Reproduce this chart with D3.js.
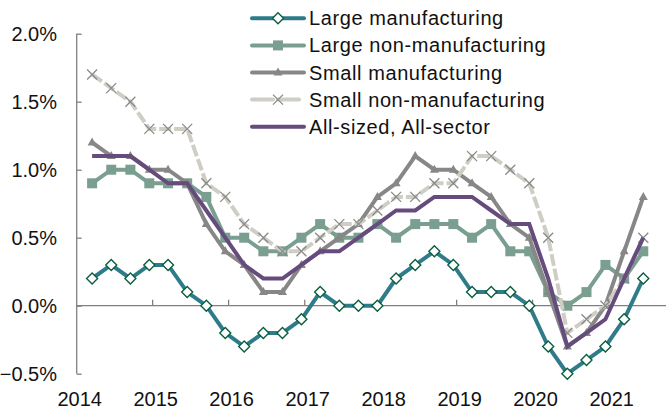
<!DOCTYPE html>
<html lang="en">
<head>
<meta charset="UTF-8">
<title>Lending rate changes</title>
<script src="https://d3js.org/d3.v7.min.js"></script>
<style>
  body { margin: 0; background: #fff; }
  svg text { font-family: "Liberation Sans", Arial, sans-serif; fill: #111; }
</style>
</head>
<body>
<svg width="666" height="411"></svg>
<script>
  // quarterly observations, Mar 2014 .. Jun 2021
  const quarters = ["2014-03", "2014-06", "2014-09", "2014-12", "2015-03", "2015-06", "2015-09", "2015-12",
      "2016-03", "2016-06", "2016-09", "2016-12", "2017-03", "2017-06", "2017-09", "2017-12",
      "2018-03", "2018-06", "2018-09", "2018-12", "2019-03", "2019-06", "2019-09", "2019-12",
      "2020-03", "2020-06", "2020-09", "2020-12", "2021-03", "2021-06"];

  const largeMfg = [0.2, 0.3, 0.2, 0.3, 0.3, 0.1, 0.0, -0.2, -0.3, -0.2, -0.2, -0.1, 0.1, 0.0, 0.0, 0.0,
      0.2, 0.3, 0.4, 0.3, 0.1, 0.1, 0.1, 0.0, -0.3, -0.5, -0.4, -0.3, -0.1, 0.2];
  const largeNonMfg = [0.9, 1.0, 1.0, 0.9, 0.9, 0.9, 0.8, 0.5, 0.5, 0.4, 0.4, 0.5, 0.6, 0.5, 0.5, 0.6,
      0.5, 0.6, 0.6, 0.6, 0.5, 0.6, 0.4, 0.4, 0.1, 0.0, 0.1, 0.3, 0.2, 0.4];
  const smallMfg = [1.2, 1.1, 1.1, 1.0, 1.0, 0.9, 0.6, 0.4, 0.3, 0.1, 0.1, 0.3, 0.4, 0.5, 0.6, 0.8,
      0.9, 1.1, 1.0, 1.0, 0.9, 0.8, 0.6, 0.5, 0.1, -0.3, -0.2, 0.0, 0.4, 0.8];
  const smallNonMfg = [1.7, 1.6, 1.5, 1.3, 1.3, 1.3, 0.9, 0.8, 0.6, 0.5, 0.4, 0.4, 0.5, 0.6, 0.6, 0.7,
      0.8, 0.8, 0.9, 0.9, 1.1, 1.1, 1.0, 0.9, 0.5, -0.2, -0.1, 0.0, 0.2, 0.5];
  const allSized = [1.1, 1.1, 1.1, 1.0, 0.9, 0.9, 0.7, 0.5, 0.3, 0.2, 0.2, 0.3, 0.4, 0.4, 0.5, 0.6,
      0.7, 0.7, 0.8, 0.8, 0.8, 0.7, 0.6, 0.6, 0.2, -0.3, -0.2, -0.1, 0.2, 0.5];

  const yTicks = [-0.5, 0, 0.5, 1.0, 1.5, 2.0];
  const yearTicks = [2014, 2015, 2016, 2017, 2018, 2019, 2020, 2021];

  const series = [
    {name: "Large manufacturing", values: largeMfg, color: "#2e7b8a", marker: "diamond"},
    {name: "Large non-manufacturing", values: largeNonMfg, color: "#7a9e8f", marker: "square"},
    {name: "Small manufacturing", values: smallMfg, color: "#878787", marker: "triangle"},
    {name: "Small non-manufacturing", values: smallNonMfg, color: "#cfcdc4", marker: "cross", dash: "12,3"},
    {name: "All-sized, All-sector", values: allSized, color: "#664b7d", marker: null}
  ];

  const svg = d3.select("svg");
  const parse = d3.timeParse("%Y-%m-%d");
  const dates = quarters.map(q => parse(q + "-16"));

  const x = d3.scaleTime()
      .domain([new Date(2014, 0, 1), new Date(2022, 0, 1)])
      .range([76.7, 684.7]);
  const y = d3.scaleLinear().domain([-0.5, 2.0]).range([373.7, 33.7]);

  // y axis, ticks pointing inward
  const yAxis = svg.append("g")
      .attr("transform", "translate(76.7,0)")
      .call(d3.axisRight(y).tickValues(yTicks).tickSize(5).tickFormat(""));
  yAxis.select(".domain").attr("stroke", "#808080").attr("stroke-width", 1.3).attr("d", `M0,${y(2)}V${y(-0.5)}`);
  yAxis.selectAll(".tick line").attr("stroke", "#808080").attr("stroke-width", 1.3);

  svg.selectAll(".ylab")
    .data(yTicks)
    .join("text")
      .attr("class", "ylab")
      .attr("x", 57)
      .attr("y", d => y(d) + 7)
      .attr("text-anchor", "end")
      .style("font-size", "20px")
      .text(d => d3.format(".1f")(d) + "%");

  // zero line with upward ticks at year marks
  svg.append("line")
      .attr("x1", 76.7).attr("x2", 666)
      .attr("y1", y(0)).attr("y2", y(0))
      .attr("stroke", "#808080").attr("stroke-width", 1.3);
  svg.selectAll(".xtick")
    .data(yearTicks.slice(1))
    .join("line")
      .attr("class", "xtick")
      .attr("x1", d => x(new Date(d, 0, 1))).attr("x2", d => x(new Date(d, 0, 1)))
      .attr("y1", y(0)).attr("y2", y(0) - 6)
      .attr("stroke", "#808080").attr("stroke-width", 1.3);

  svg.selectAll(".xlab")
    .data(yearTicks)
    .join("text")
      .attr("class", "xlab")
      .attr("x", d => x(new Date(d, 0, 1)) + 3)
      .attr("y", 406)
      .attr("text-anchor", "middle")
      .style("font-size", "20px")
      .text(d => d);

  const line = d3.line()
      .x((d, i) => x(dates[i]))
      .y(d => y(d));

  function drawMarker(g, type, color) {
    if (type === "diamond") {
      g.append("path").attr("d", "M0,-5.5L5.5,0L0,5.5L-5.5,0Z")
        .attr("fill", "#fff").attr("stroke", "#0b5e3e").attr("stroke-width", 1.4);
    } else if (type === "square") {
      g.append("rect").attr("x", -5).attr("y", -5).attr("width", 10).attr("height", 10)
        .attr("fill", color);
    } else if (type === "triangle") {
      g.append("path").attr("d", "M0,-5L4.5,3L-4.5,3Z").attr("fill", color);
    } else if (type === "cross") {
      g.append("path").attr("d", "M-5,-5L5,5M-5,5L5,-5")
        .attr("stroke", "#8a8a8a").attr("stroke-width", 1.3).attr("fill", "none");
    }
  }

  series.forEach(s => {
    svg.append("path")
        .datum(s.values)
        .attr("fill", "none")
        .attr("stroke", s.color)
        .attr("stroke-width", 4)
        .attr("stroke-linejoin", "miter")
        .attr("stroke-dasharray", s.dash || null)
        .attr("d", line);
    if (s.marker) {
      s.values.forEach((v, i) => {
        const g = svg.append("g").attr("transform", `translate(${x(dates[i])},${y(v)})`);
        drawMarker(g, s.marker, s.color);
      });
    }
  });

  // legend
  const legend = svg.append("g");
  series.forEach((s, k) => {
    const ly = 18.3 + k * 27.1;
    const row = legend.append("g").attr("transform", `translate(0,${ly})`);
    row.append("line")
        .attr("x1", 252).attr("x2", 304)
        .attr("stroke", s.color).attr("stroke-width", 4).attr("stroke-linecap", "round")
        .attr("stroke-dasharray", s.dash ? "21,5" : null);
    if (s.marker) {
      const g = row.append("g").attr("transform", "translate(278,0)");
      drawMarker(g, s.marker, s.color);
    }
    row.append("text")
        .attr("x", 309).attr("y", 7)
        .style("font-size", "20px")
        .style("letter-spacing", "0.6px")
        .text(s.name);
  });
</script>
</body>
</html>
